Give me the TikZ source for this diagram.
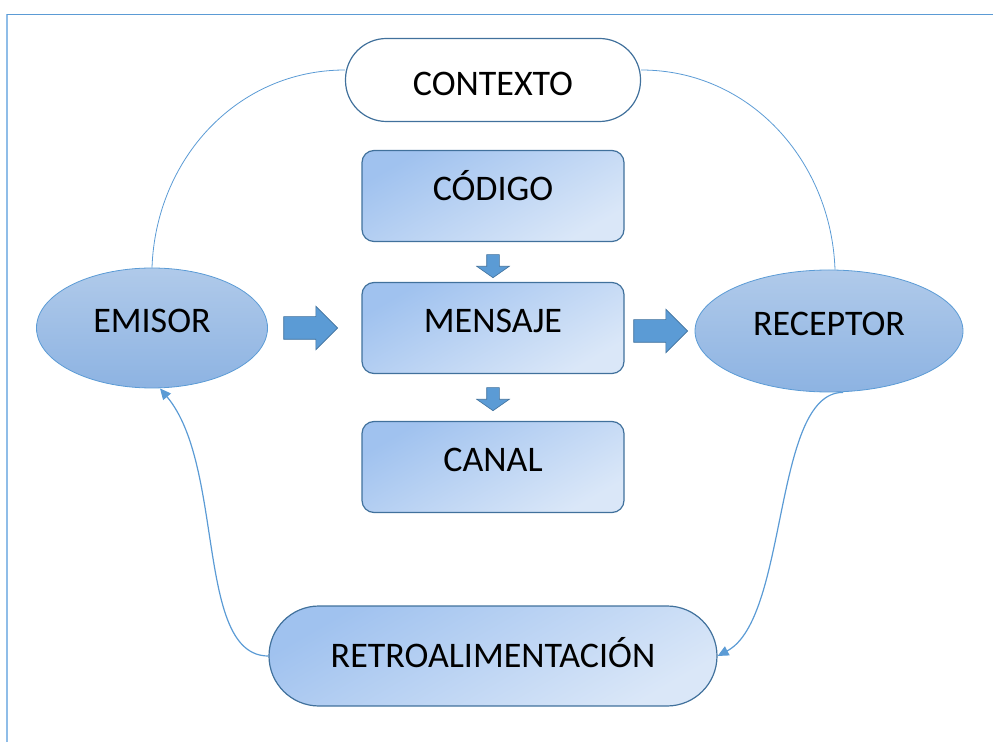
\documentclass[tikz,border=0pt]{standalone}
\usepackage{fontspec}
\setmainfont{Carlito}
\usetikzlibrary{arrows.meta,shapes.geometric,shapes.arrows}

\definecolor{azulborde}{HTML}{41719C}
\definecolor{azullinea}{HTML}{5B9BD5}
\definecolor{azulmarco}{HTML}{8FBDE8}
\definecolor{azulclaro}{HTML}{DAE7F8}
\definecolor{azuloscuro}{HTML}{A0C2EF}
\definecolor{elipsearriba}{HTML}{B0CAEA}
\definecolor{elipseabajo}{HTML}{8DB3E2}

\begin{document}
\begin{tikzpicture}[->,>={Triangle[length=11pt,width=10pt]},font=\fontsize{36}{40}\selectfont,caja/.style={rectangle,rounded corners=12pt,draw=azulborde,line width=1.2pt,top color=azuloscuro,bottom color=azulclaro,shading angle=30,minimum width=262pt,minimum height=91pt,inner sep=0pt,text height=23pt,text depth=14pt},largo/.style={caja,rounded corners=50pt,minimum width=448pt,minimum height=100pt,text depth=0pt},contorno/.style={rectangle,rounded corners=41pt,draw=azulborde,line width=1.2pt,fill=white,minimum width=295pt,minimum height=83pt,inner sep=0pt,text height=32pt,text depth=0pt},elipse/.style={ellipse,draw=azullinea,line width=0.8pt,top color=elipsearriba,bottom color=elipseabajo,inner sep=0pt,text height=23pt,text depth=14pt},flecha/.style={single arrow,draw=azulborde,line width=0.6pt,fill=azullinea,inner xsep=21pt,inner ysep=11pt,single arrow head extend=10.5pt,single arrow head indent=0pt},bajada/.style={flecha,shape border rotate=270,inner xsep=6pt,inner ysep=9pt,single arrow head extend=10pt,single arrow tip angle=110},enlace/.style={draw=azullinea,line width=1.2pt},fino/.style={-,draw=azullinea,line width=0.8pt}]
		\useasboundingbox (0,0) rectangle (993pt,742pt);
		\draw[-,azulmarco,line width=1.4pt] (7pt,0pt) -- (7pt,728pt);
		\draw[-,azullinea,line width=0.8pt] (7pt,728pt) -- (993pt,728pt);

		\node[caja] (mensaje) at (493pt,414pt) {MENSAJE};
		\node[caja] (codigo) [node distance=132pt,above of=mensaje] {CÓDIGO};
		\node[caja] (canal) [node distance=139pt,below of=mensaje] {CANAL};
		\node[contorno] (contexto) [node distance=116pt,above of=codigo] {CONTEXTO};
		\node[largo] (retro) [node distance=189pt,below of=canal] {RETROALIMENTACIÓN};
		\node[elipse,minimum width=231pt,minimum height=120pt] (emisor) [node distance=341pt,left of=mensaje] {EMISOR};
		\node[elipse,minimum width=268pt,minimum height=122pt] (receptor) [node distance=336pt,right of=mensaje,yshift=-3pt] {RECEPTOR};

		\node[flecha] (f1) [node distance=153pt,right of=emisor] {};
		\node[flecha] (f2) [node distance=174pt,left of=receptor] {};
		\node[bajada] (b1) [node distance=68pt,below of=codigo] {};
		\node[bajada] (b2) [node distance=69pt,below of=mensaje] {};

		\draw[fino] (emisor.north) to[out=88,in=180] ([yshift=10pt]contexto.west);
		\draw[fino] ([yshift=10pt]contexto.east) to[out=0,in=92] ([xshift=6pt]receptor.north);
		\draw[enlace] (retro.west) to[out=180,in=-50,out looseness=0.65,in looseness=0.9] ([xshift=8pt]emisor.south);
		\draw[enlace] ([xshift=14pt]receptor.south) to[out=180,in=28,out looseness=0.62,in looseness=0.71] (retro.east);

		\end{tikzpicture}
\end{document}
